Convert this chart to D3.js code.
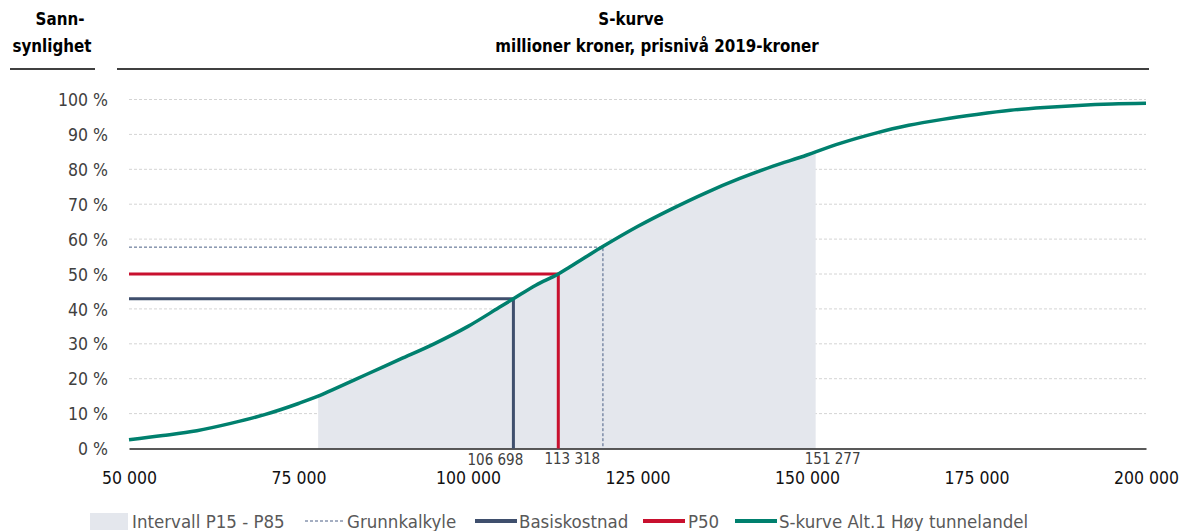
<!DOCTYPE html>
<html><head><meta charset="utf-8">
<script src="https://cdn.jsdelivr.net/npm/d3@7"></script>
<style>
body{margin:0;background:#fff;}
svg{display:block;}
</style></head>
<body><svg id="c" width="1183" height="531"></svg>
<script>
// ---- data ----
const costs = [50000,55000,60000,65000,70000,75000,77900,80000,85000,90000,95000,100000,105000,106698,110000,113318,115000,120000,125000,130000,135000,140000,145000,150000,151277,155000,160000,165000,170000,175000,180000,185000,190000,195000,200000];
const probs = [2.5,3.7,5.1,7.2,9.7,12.9,15.0,16.8,21.2,25.6,30.0,35.0,40.9,42.9,46.8,50.0,52.0,58.0,63.6,68.6,73.2,77.3,80.9,84.1,85.0,87.5,90.3,92.6,94.3,95.7,96.9,97.7,98.3,98.7,98.9];
const intervalP15 = 77900, intervalP85 = 151277;
const grunnkalkyle = {cost:119900, prob:57.7};
const basiskostnad = {cost:106698, prob:42.9};
const p50 = {cost:113318, prob:50.0};
const xTicks = [50000,75000,100000,125000,150000,175000,200000];
const yTicks = [0,10,20,30,40,50,60,70,80,90,100];
const valueLabels = [106698,113318,151277];
const legendItems = ["Intervall P15 - P85","Grunnkalkyle","Basiskostnad","P50","S-kurve Alt.1 Høy tunnelandel"];

// ---- chart ----
const FONT = "'Liberation Sans Narrow','DejaVu Sans Condensed','Liberation Sans',sans-serif";
const svg = d3.select("#c");
const x = d3.scaleLinear().domain([50000,200000]).range([129,1146]);
const y = d3.scaleLinear().domain([0,100]).range([448.5,99.5]);
const fmt = v => d3.format(",")(v).replace(/,/g," ");
const data = costs.map((c,i)=>({c, p:probs[i]}));
const colNavy="#3f4f6d", colRed="#c8102e", colTeal="#00806e", colShade="#e4e7ed", colText="#404040", colDash="#4a5f85";

// titles
const title = (t,xx,yy)=>svg.append("text").attr("x",xx).attr("y",yy).attr("text-anchor","middle")
  .attr("font-family",FONT).attr("font-weight","bold").attr("font-size",16.8).attr("fill","#000").text(t);
title("S-kurve",631,25);
title("millioner kroner, prisnivå 2019-kroner",657,52);
title("Sann-",60,25);
title("synlighet",52,52);
svg.append("line").attr("x1",10).attr("x2",95).attr("y1",69).attr("y2",69).attr("stroke","#000").attr("stroke-width",1.6);
svg.append("line").attr("x1",117).attr("x2",1149).attr("y1",69).attr("y2",69).attr("stroke","#000").attr("stroke-width",1.6);

// gridlines
svg.append("g").selectAll("line").data(yTicks.filter(d=>d>0)).join("line")
  .attr("x1",x(50000)).attr("x2",x(200000)).attr("y1",d=>y(d)).attr("y2",d=>y(d))
  .attr("stroke","#d4d4d4").attr("stroke-width",1).attr("stroke-dasharray","3,2");

// shaded interval
const shadeData = data.filter(d=>d.c>=intervalP15 && d.c<=intervalP85);
svg.append("path").datum(shadeData)
  .attr("d", d3.area().x(d=>x(d.c)).y0(y(0)).y1(d=>y(d.p)).curve(d3.curveMonotoneX))
  .attr("fill",colShade);

// y axis labels
const yAxis = d3.axisLeft(y).tickValues(yTicks).tickSize(0).tickPadding(0).tickFormat(d=>d+" %");
const ga = svg.append("g").attr("transform","translate(108,0)").call(yAxis);
ga.select(".domain").remove();
ga.selectAll("text").attr("font-family",FONT).attr("font-size",17.5).attr("fill",colText).attr("dy","0.35em");

// x axis
const xAxis = d3.axisBottom(x).tickValues(xTicks).tickSize(0).tickPadding(0).tickFormat(fmt);
const gx = svg.append("g").attr("transform",`translate(0,${y(0)})`).call(xAxis);
gx.select(".domain").attr("stroke","#222").attr("stroke-width",1.6);
gx.selectAll("text").attr("font-family",FONT).attr("font-size",17.5).attr("fill","#111").attr("y",23);

// grunnkalkyle
svg.append("path").attr("d",`M${x(50000)},${y(grunnkalkyle.prob)}H${x(grunnkalkyle.cost)}V${y(0)}`)
  .attr("fill","none").attr("stroke",colDash).attr("stroke-width",1).attr("stroke-dasharray","3,2");
// basiskostnad
svg.append("path").attr("d",`M${x(50000)},${y(basiskostnad.prob)}H${x(basiskostnad.cost)}V${y(0)}`)
  .attr("fill","none").attr("stroke",colNavy).attr("stroke-width",3);
// P50
svg.append("path").attr("d",`M${x(50000)},${y(p50.prob)}H${x(p50.cost)}V${y(0)}`)
  .attr("fill","none").attr("stroke",colRed).attr("stroke-width",3);

// S-curve
svg.append("path").datum(data)
  .attr("d", d3.line().x(d=>x(d.c)).y(d=>y(d.p)).curve(d3.curveMonotoneX))
  .attr("fill","none").attr("stroke",colTeal).attr("stroke-width",3.5);

// value labels
const labOff = {106698:-18, 113318:14, 151277:17};
const labY = {106698:465, 113318:464, 151277:464};
svg.append("g").selectAll("text").data(valueLabels).join("text")
  .attr("x",d=>x(d)+labOff[d]).attr("y",d=>labY[d]).attr("text-anchor","middle")
  .attr("font-family",FONT).attr("font-size",15).attr("fill",colText).text(fmt);

// legend
const lg = svg.append("g").attr("font-family",FONT).attr("font-size",18.5).attr("fill","#595959");
const lx = [90,305,475,643,735];
lg.append("rect").attr("x",lx[0]).attr("y",513).attr("width",38).attr("height",17).attr("fill",colShade);
lg.append("line").attr("x1",lx[1]).attr("x2",lx[1]+38).attr("y1",521).attr("y2",521).attr("stroke",colDash).attr("stroke-dasharray","3,2");
lg.append("line").attr("x1",lx[2]).attr("x2",lx[2]+42).attr("y1",521).attr("y2",521).attr("stroke",colNavy).attr("stroke-width",4);
lg.append("line").attr("x1",lx[3]).attr("x2",lx[3]+42).attr("y1",521).attr("y2",521).attr("stroke",colRed).attr("stroke-width",4);
lg.append("line").attr("x1",lx[4]).attr("x2",lx[4]+42).attr("y1",521).attr("y2",521).attr("stroke",colTeal).attr("stroke-width",4);
const tx = [132,347,519,688,779];
legendItems.forEach((t,i)=>lg.append("text").attr("x",tx[i]).attr("y",528).attr("fill","#595959").text(t));
</script></body></html>
